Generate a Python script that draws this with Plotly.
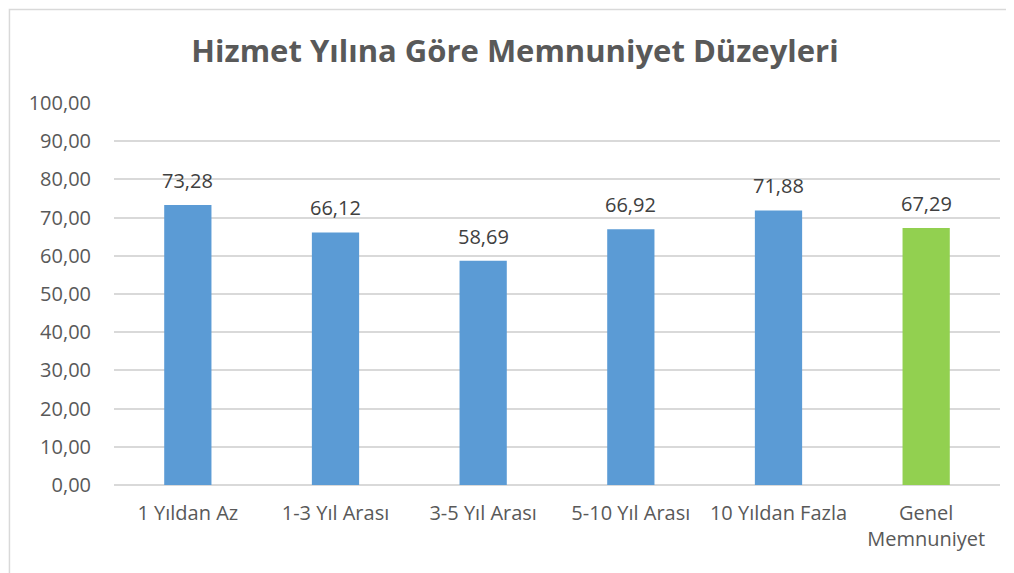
import plotly.graph_objects as go

categories = ["1 Yıldan Az", "1-3 Yıl Arası", "3-5 Yıl Arası", "5-10 Yıl Arası",
              "10 Yıldan Fazla", "Genel<br>Memnuniyet"]
values = [73.28, 66.12, 58.69, 66.92, 71.88, 67.29]
colors = ["#5B9BD5"] * 5 + ["#92D050"]

font = "Open Sans, Noto Sans, sans-serif"

fig = go.Figure(go.Bar(
    x=categories, y=values,
    marker=dict(color=colors, line=dict(width=0)),
    width=0.32,
    hoverinfo="x+y",
))

# etiketler çubukların üstünde
for c, v in zip(categories, values):
    fig.add_annotation(x=c, y=v, text=f"{v:.2f}".replace(".", ","),
                       showarrow=False, yanchor="bottom", yshift=9,
                       font=dict(size=20, color="#404040", family=font))

fig.update_layout(
    width=1014, height=573,
    margin=dict(l=106, r=22, t=95, b=96),
    paper_bgcolor="white", plot_bgcolor="white",
    separators=",.",
    title=dict(text="<b>Hizmet Yılına Göre Memnuniyet Düzeyleri</b>",
               x=0.5, xanchor="center", y=0.925, yanchor="middle",
               font=dict(size=31, color="#595959", family=font)),
    font=dict(family=font, color="#595959"),
    showlegend=False,
    xaxis=dict(showgrid=False, showline=False, ticks="", ticklabelstandoff=14,
               tickfont=dict(size=20, color="#595959")),
    yaxis=dict(range=[0, 100], dtick=10, tickformat=".2f",
               showgrid=True, gridcolor="#D9D9D9", gridwidth=1.5,
               zeroline=True, zerolinecolor="#D9D9D9", zerolinewidth=1.5,
               showline=False, ticks="", ticklabelstandoff=22,
               tickfont=dict(size=20, color="#595959")),
    shapes=[dict(type="rect", xref="paper", yref="paper",
                 x0=-0.118, x1=1.027, y0=-0.248, y1=1.245,
                 line=dict(color="#D9D9D9", width=1.5), layer="below")],
)

fig.write_html("out.html")
